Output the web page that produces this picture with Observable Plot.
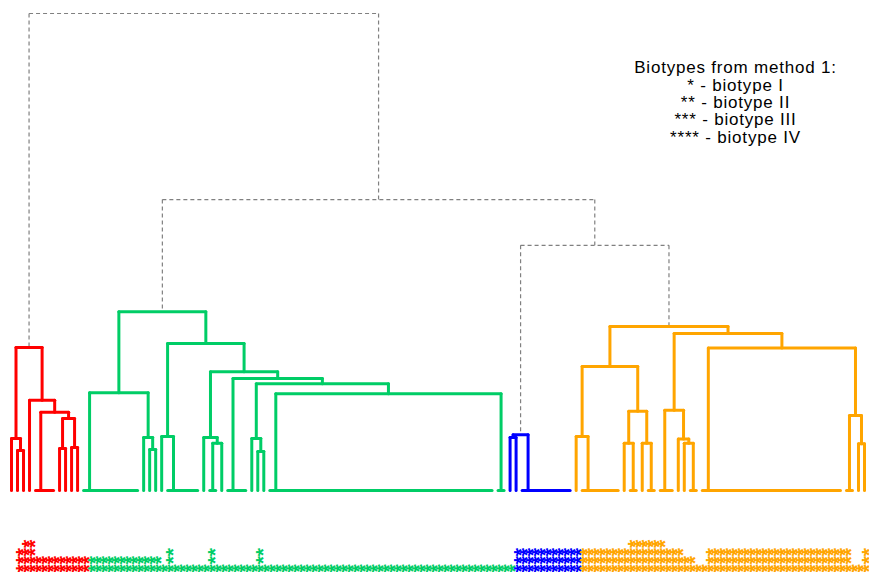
<!DOCTYPE html>
<html>
<head>
<meta charset="utf-8">
<script src="https://cdn.jsdelivr.net/npm/d3@7"></script>
<script src="https://cdn.jsdelivr.net/npm/@observablehq/plot@0.6"></script>
<style>
  html, body { margin: 0; padding: 0; background: #fff; }
  #chart svg { display: block; }
</style>
</head>
<body>
<div id="chart"></div>
<script>
// ---------------- DATA ----------------
const clusterNames  = ["red", "green", "blue", "orange"];
const clusterColors = ["#FF0000", "#00CD66", "#0000FF", "#FFA500"];

// Sub-trees of each coloured cluster (Newick-like).
// L = one leaf, [n] = n identical leaves merged at height 0, ":h" = merge height
const redTree    = "((L,(L,L):8.4):10.9,(L,([4],((L,L):8.8,(L,L):9.0):15.1):16.4):18.9):30.0";
const greenTree  = "(([10],(L,(L,L):8.6):11.1):20.5,((L,[6]):11.3,((L,([2],L):9.9):11.1,([4],((L,(L,L):8.2):10.9,([38],[2]):20.3):22.4):23.5):24.9):30.8):37.5";
const blueTree   = "((L,L):11.1,[9]):11.7";
const orangeTree = "(((L,[7]):11.3,((L,[2]):9.9,(L,[2]):9.9):16.6):26.0,(([3],(L,(L,[2]):9.9):10.8):16.8,([24],([2],(L,L):9.8):15.7):29.9):32.9):34.4";
// Upper (grey dashed) part joining the clusters C0..C3
const upperTree  = "(C0,(C1,(C2,C3):51.4):61.0):100";

// Biotype (number of asterisks) of every leaf, per cluster, in leaf order
const redBiotypes    = [3,4,4,2,2,2,2,2,2,2,2,2];
const greenBiotypes  = [2,2,2,2,2,2,2,2,2,2,2,2, 1, 3, 1,1,1,1,1,1, 3, 1,1,1,1,1,1,1, 3,
                        1,1,1,1,1,1,1,1,1,1, 1,1,1,1,1,1,1,1,1,1, 1,1,1,1,1,1,1,1,1,1, 1,1,1,1,1,1,1,1,1,1, 1,1];
const blueBiotypes   = [3,3,3,3,3,3,3,3,3,3,3];
const orangeBiotypes = [3,3,3,3,3,3,3,3, 4,4,4,4,4,4, 3,3,3, 2,2, 1,1,
                        3,3,3,3,3,3,3,3,3,3,3,3,3,3,3,3,3,3,3,3,3,3,3,3, 1,1, 3,3];

const legendLines = ["Biotypes from method 1:", "* - biotype I", "** - biotype II", "*** - biotype III", "**** - biotype IV"];

// ---------------- TREE LAYOUT ----------------
const clusterTrees = [redTree, greenTree, blueTree, orangeTree];
const clusterBiotypes = [redBiotypes, greenBiotypes, blueBiotypes, orangeBiotypes];

function parse(str) {
  let i = 0;
  function num() { const j = i; while (i < str.length && /[0-9.]/.test(str[i])) i++; return +str.slice(j, i); }
  function node() {
    const c = str[i];
    if (c === "(") {
      i++; const a = node(); i++; const b = node(); i++; // ( a , b )
      let h = 0; if (str[i] === ":") { i++; h = num(); }
      return {children: [a, b], height: h};
    } else if (c === "[") {
      i++; const n = num(); i++; return {comb: n};
    } else if (c === "C") {
      i++; return {cluster: num()};
    } else { i++; return {leaf: true}; }
  }
  return node();
}
function expandComb(n) {
  if (n === 1) return {leaf: true};
  return {children: [{leaf: true}, expandComb(n - 1)], height: 0};
}

const clusterRoots = clusterTrees.map(parse);
const segments = [];
const leaves = [];
let leafCounter = 0;
let localCounter = 0;

function layout(node, group) {
  if (node.comb !== undefined) node = expandComb(node.comb);
  if (node.cluster !== undefined) { localCounter = 0; return layout(clusterRoots[node.cluster], node.cluster); }
  if (node.leaf) {
    const x = leafCounter++;
    leaves.push({x, cluster: group, biotype: clusterBiotypes[group][localCounter++]});
    return {x, h: 0};
  }
  const a = layout(node.children[0], group);
  const b = layout(node.children[1], group);
  const h = node.height;
  segments.push({x1: a.x, y1: h, x2: b.x, y2: h, group});
  if (h !== a.h) segments.push({x1: a.x, y1: h, x2: a.x, y2: a.h, group});
  if (h !== b.h) segments.push({x1: b.x, y1: h, x2: b.x, y2: b.h, group});
  return {x: (a.x + b.x) / 2, h};
}
layout(parse(upperTree), -1);

const N = leaves.length;

// ---------------- PLOT ----------------
const chart = Plot.plot({
  width: 869,
  height: 572,
  marginLeft: 11,
  marginRight: 5,
  marginTop: 13,
  marginBottom: 82,
  x: {domain: [0, N - 1], axis: null},
  y: {domain: [0, 100], axis: null},
  color: {type: "identity"},
  style: {background: "#fff"},
  marks: [
    Plot.link(segments.filter(d => d.group < 0), {
      x1: "x1", y1: "y1", x2: "x2", y2: "y2",
      stroke: "#808080", strokeWidth: 1.2, strokeDasharray: "4,3"
    }),
    Plot.link(segments.filter(d => d.group >= 0), {
      x1: "x1", y1: "y1", x2: "x2", y2: "y2",
      stroke: d => clusterColors[d.group], strokeWidth: 3, strokeLinecap: "round"
    }),
    Plot.text(leaves, {
      x: "x", frameAnchor: "bottom",
      text: d => "*".repeat(d.biotype),
      rotate: -90, textAnchor: "start",
      dx: 18, dy: 82,
      fill: d => clusterColors[d.cluster],
      fontSize: 21, fontWeight: "bold", fontFamily: "Liberation Sans, Arial, sans-serif"
    }),
    Plot.text([legendLines.join("\n")], {
      frameAnchor: "top-left", dx: 724, dy: 47.5,
      textAnchor: "middle", lineAnchor: "top", lineHeight: 1.02,
      fontSize: 17, fontFamily: "Liberation Sans, Arial, sans-serif",
      fill: "#000"
    })
  ]
});
d3.select(chart).selectAll("text")
  .filter(function() { return this.textContent.includes("Biotypes"); })
  .style("letter-spacing", "0.8px");
document.getElementById("chart").appendChild(chart);
</script>
</body>
</html>
